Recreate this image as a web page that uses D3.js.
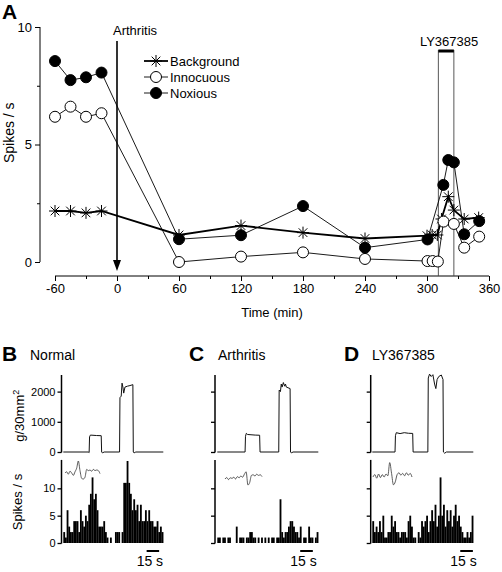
<!DOCTYPE html>
<html><head><meta charset="utf-8">
<script src="https://cdn.jsdelivr.net/npm/d3@7"></script>
<style>
body{margin:0;background:#fff;}
svg{font-family:Arial,"Liberation Sans",Helvetica,sans-serif;}
</style></head>
<body><svg id="c" width="502" height="572"></svg>
<script>
// ---------- Panel A data ----------
const timeTicks = [-60, 0, 60, 120, 180, 240, 300, 360];
const rateTicks = [0, 5, 10];
const timesBackground = [-60, -45, -30, -15, 60, 120, 180, 240, 300, 305, 310, 314, 320.6, 326, 336, 350];
const background      = [2.17, 2.17, 2.09, 2.17, 1.15, 1.55, 1.25, 1.0, 1.12, 1.15, 1.15, 1.83, 2.78, 2.21, 1.83, 1.89];
const timesInnocuous  = [-60, -45, -30, -15, 60, 120, 180, 240, 300.5, 305.5, 310.5, 316, 326, 336, 350.5];
const innocuous       = [6.18, 6.61, 6.18, 6.33, 0.0, 0.23, 0.41, 0.13, 0.04, 0.04, 0.02, 1.72, 1.62, 0.61, 1.08];
const timesNoxious    = [-60, -45, -30, -15, 60, 120, 180, 240, 300.5, 315.8, 320.6, 326, 336, 350.5];
const noxious         = [8.55, 7.74, 7.86, 8.06, 0.97, 1.14, 2.38, 0.61, 0.96, 3.28, 4.34, 4.24, 1.18, 1.74];
const arthritisTime = 0;
const drugStart = 311, drugEnd = 326;
const seriesNames = ["Background", "Innocuous", "Noxious"];

// ---------- Panels B-D data ----------
const panelNames = ["Normal", "Arthritis", "LY367385"];
const forceTicks = [0, 1000, 2000];
const histTicks = [0, 5, 10];
// force traces: [time s, g/30mm2]
const forceNormal = [[0,0],[30,0],[31,-20],[31.5,500],[32.5,560],[40,545],[45.5,540],[46,0],[47,-30],[49,0],[67.5,0],[68,1800],[69.5,1850],[70.5,2280],[71.5,2150],[72.5,1950],[74,2150],[77,2180],[80,2200],[83.5,2230],[84,0],[85,-30],[87,0],[120,0]];
const forceArthritis = [[0,0],[33,0],[33.5,520],[34.5,620],[36,580],[45,560],[50.3,555],[50.8,0],[73,0],[73.5,2050],[75,2000],[76,2250],[77,2150],[78.5,2300],[80,2180],[81,2250],[82,2150],[86.5,2100],[87,0],[88,-30],[90,0],[120,0]];
const forceLY = [[0,0],[27,0],[27.5,540],[28.5,640],[33,610],[38,640],[43,620],[48,615],[48.5,0],[66,0],[66.5,2450],[68,2580],[70,2500],[72,2560],[74,2250],[75.5,2100],[77,2400],[79,2500],[82,2550],[84,2400],[84.5,0],[86,-40],[88,0],[120,0]];
// histograms: spikes/s in 2-s bins
const histNormal = [2,1,6,3,2,2,4,4,4,2,6,4,3,5,4,7,9,12,8,9,6,3,3,3,4,2,1,0,1,0,0,2,2,2,0,2,11,11,15,11,9,6,8,6,7,4,7,4,4,6,4,6,4,4,3,3,4,2,3,2];
const histArthritis = [1,1,0,1,1,0,1,1,0,0,0,3,0,1,1,1,0,1,1,2,2,1,1,0,1,0,1,0,1,0,1,0,1,1,0,1,1,8,2,1,2,2,3,4,4,3,2,2,1,3,0,1,1,0,3,1,1,0,1,2];
const histLY = [4,2,3,2,4,2,5,1,1,2,2,5,3,4,2,2,1,2,2,2,1,4,5,3,1,1,0,2,1,4,3,4,5,2,4,6,4,7,3,5,12,5,7,3,6,4,6,3,5,7,4,5,3,2,1,1,2,1,2,5];
// spike waveform insets (relative units)
const waveNormal = [0,0.1,-0.1,0.15,0,-0.2,0.1,0.4,1.0,0.2,-0.45,-0.5,-0.35,0.3,0.2,0.25,0.15,0.3,0.2,0.25,0.2,-0.05];
const waveArthritis = [0,0.12,-0.05,0.1,0.05,0.15,0,0.2,0.1,0.25,0.15,0.4,0.6,-0.5,-0.3,0.3,0.35,0.25,0.4,0.3,0.35,0.2];
const waveLY = [0,0.2,-0.1,0.25,-0.05,0.2,0.0,0.25,0.1,1.2,0.3,-0.65,-0.4,0.2,0.35,0.15,0.3,0.1,0.35,0.15,0.3,0.0];
const scaleBarSeconds = 15;

const svg = d3.select("#c");
const fmt = d => String(d);

// ================= Panel A =================
const x = d3.scaleLinear().domain([-60, 360]).range([55, 489]);
const y = d3.scaleLinear().domain([0, 10]).range([262, 27]);
const gA = svg.append("g");

gA.append("text").attr("x", 2).attr("y", 19).attr("font-size", 21).attr("font-weight", "bold").text("A");

const yAx = gA.append("g").attr("transform", "translate(40,0)");
yAx.call(d3.axisLeft(y).tickValues(rateTicks).tickSize(5).tickPadding(3).tickFormat(fmt));
yAx.append("g").call(d3.axisLeft(y).tickValues([2.5, 7.5]).tickSize(3).tickFormat(""));
const xAx = gA.append("g").attr("transform", "translate(0,276)");
xAx.call(d3.axisBottom(x).tickValues(timeTicks).tickSize(5).tickPadding(3).tickFormat(fmt));
xAx.append("g").call(d3.axisBottom(x).tickValues(d3.range(-30, 360, 60)).tickSize(3).tickFormat(""));
[yAx, xAx].forEach(a => {
  a.selectAll(".domain").remove();
  a.selectAll("text").attr("font-size", 13).attr("fill", "#000").attr("font-family", "Arial, 'Liberation Sans', sans-serif");
});
gA.append("line").attr("x1", 40).attr("x2", 40).attr("y1", y(10)).attr("y2", y(0)).attr("stroke", "#000");
gA.append("line").attr("x1", x(-60)).attr("x2", x(360)).attr("y1", 276).attr("y2", 276).attr("stroke", "#000");

gA.append("text").attr("x", (x(-60) + x(360)) / 2).attr("y", 317).attr("text-anchor", "middle").attr("font-size", 13).text("Time (min)");
gA.append("text").attr("transform", `translate(14,${y(5.5)}) rotate(-90)`).attr("text-anchor", "middle").attr("font-size", 14).text("Spikes / s");

// drug application
gA.append("line").attr("x1", x(drugStart)).attr("x2", x(drugStart)).attr("y1", 50).attr("y2", 276).attr("stroke", "#444").attr("stroke-width", 0.9);
gA.append("line").attr("x1", x(drugEnd)).attr("x2", x(drugEnd)).attr("y1", 50).attr("y2", 276).attr("stroke", "#444").attr("stroke-width", 0.9);
gA.append("line").attr("x1", x(drugStart)).attr("x2", x(drugEnd)).attr("y1", 51).attr("y2", 51).attr("stroke", "#000").attr("stroke-width", 3);
gA.append("text").attr("x", (x(drugStart) + x(drugEnd)) / 2 + 3).attr("y", 46).attr("text-anchor", "middle").attr("font-size", 13).text("LY367385");

// arthritis arrow
gA.append("line").attr("x1", x(arthritisTime)).attr("x2", x(arthritisTime)).attr("y1", 41).attr("y2", 262).attr("stroke", "#000").attr("stroke-width", 1.6);
gA.append("path").attr("d", `M${x(0)-4},${260} L${x(0)+4},${260} L${x(0)},${271} Z`).attr("fill", "#000");
gA.append("text").attr("x", x(arthritisTime) - 4).attr("y", 35).attr("font-size", 13).text("Arthritis");

const asteriskPath = (r) => `M0,${-r}V${r}M${-r},0H${r}M${-r*0.72},${-r*0.72}L${r*0.72},${r*0.72}M${-r*0.72},${r*0.72}L${r*0.72},${-r*0.72}`;
const line = d3.line().x(d => x(d[0])).y(d => y(d[1]));

const bgData = timesBackground.map((t, i) => [t, background[i]]);
const inData = timesInnocuous.map((t, i) => [t, innocuous[i]]);
const noData = timesNoxious.map((t, i) => [t, noxious[i]]);

gA.append("path").datum(bgData).attr("d", line).attr("fill", "none").attr("stroke", "#000").attr("stroke-width", 1.8);
gA.append("path").datum(inData).attr("d", line).attr("fill", "none").attr("stroke", "#000").attr("stroke-width", 0.9);
gA.append("path").datum(noData).attr("d", line).attr("fill", "none").attr("stroke", "#000").attr("stroke-width", 0.9);

gA.selectAll(".bg").data(bgData).enter().append("path").attr("class", "bg")
  .attr("transform", d => `translate(${x(d[0])},${y(d[1])})`).attr("d", asteriskPath(6)).attr("stroke", "#000").attr("stroke-width", 1).attr("fill", "none");
gA.selectAll(".inn").data(inData).enter().append("circle").attr("class", "inn")
  .attr("cx", d => x(d[0])).attr("cy", d => y(d[1])).attr("r", 5.5).attr("fill", "#fff").attr("stroke", "#000").attr("stroke-width", 1);
gA.selectAll(".nox").data(noData).enter().append("circle").attr("class", "nox")
  .attr("cx", d => x(d[0])).attr("cy", d => y(d[1])).attr("r", 5.5).attr("fill", "#000").attr("stroke", "#000").attr("stroke-width", 1);

// legend
const leg = gA.append("g");
seriesNames.forEach((name, i) => {
  const ly = 61 + i * 16;
  leg.append("line").attr("x1", 144).attr("x2", 168).attr("y1", ly).attr("y2", ly).attr("stroke", "#000").attr("stroke-width", i === 0 ? 1.8 : 0.9);
  if (i === 0) leg.append("path").attr("transform", `translate(156,${ly})`).attr("d", asteriskPath(6)).attr("stroke", "#000").attr("fill", "none");
  else leg.append("circle").attr("cx", 156).attr("cy", ly).attr("r", 5.5).attr("fill", i === 1 ? "#fff" : "#000").attr("stroke", "#000");
  leg.append("text").attr("x", 170).attr("y", ly + 5).attr("font-size", 13).text(name);
});

// ================= Panels B-D =================
const panels = [
  {letter: "B", name: panelNames[0], letterX: 2, nameX: 30, axisX: 61.5, x0: 63.3, w: 100, force: forceNormal, hist: histNormal, wave: waveNormal, waveX: [65, 100], waveY: 473, labels: true, bar: [100, 115]},
  {letter: "C", name: panelNames[1], letterX: 189, nameX: 218, axisX: 215, x0: 217.3, w: 101, force: forceArthritis, hist: histArthritis, wave: waveArthritis, waveX: [225, 262], waveY: 479, labels: false, bar: [98.5, 113.5]},
  {letter: "D", name: panelNames[2], letterX: 344, nameX: 372, axisX: 370.7, x0: 372.3, w: 101, force: forceLY, hist: histLY, wave: waveLY, waveX: [373, 412], waveY: 477, labels: false, bar: [104.5, 119.5]}
];
const yF = d3.scaleLinear().domain([0, 2550]).range([452, 375]);
const yH = d3.scaleLinear().domain([0, 15]).range([543, 461]);

panels.forEach(p => {
  const g = svg.append("g");
  g.append("text").attr("x", p.letterX).attr("y", 361).attr("font-size", 21).attr("font-weight", "bold").text(p.letter);
  g.append("text").attr("x", p.nameX).attr("y", 360).attr("font-size", 14).text(p.name);
  const xt = d3.scaleLinear().domain([0, 120]).range([p.x0, p.x0 + p.w]);

  const fa = g.append("g").attr("transform", `translate(${p.axisX},0)`)
    .call(d3.axisLeft(yF).tickValues(forceTicks).tickSize(4).tickPadding(2).tickFormat(p.labels ? fmt : ""));
  fa.select(".domain").remove();
  fa.selectAll("line").attr("stroke-width", 1.3);
  fa.selectAll("text").attr("font-size", 11).attr("font-family", "Arial, 'Liberation Sans', sans-serif");
  g.append("line").attr("x1", p.axisX).attr("x2", p.axisX).attr("y1", yF(2550)).attr("y2", yF(0) + 0.5).attr("stroke", "#000").attr("stroke-width", 1.5);

  const ha = g.append("g").attr("transform", `translate(${p.axisX},0)`)
    .call(d3.axisLeft(yH).tickValues(histTicks).tickSize(4).tickPadding(2).tickFormat(p.labels ? fmt : ""));
  ha.select(".domain").remove();
  ha.selectAll("line").attr("stroke-width", 1.3);
  ha.selectAll("text").attr("font-size", 11).attr("font-family", "Arial, 'Liberation Sans', sans-serif");
  g.append("line").attr("x1", p.axisX).attr("x2", p.axisX).attr("y1", yH(15.2)).attr("y2", yH(0) + 0.5).attr("stroke", "#000").attr("stroke-width", 1.5);

  const fl = d3.line().x(d => xt(d[0])).y(d => yF(d[1]));
  g.append("path").datum(p.force).attr("d", fl).attr("fill", "none").attr("stroke", "#111").attr("stroke-width", 1);

  const bw = 120 / p.hist.length;
  g.selectAll(".bar").data(p.hist).enter().append("rect")
    .attr("x", (d, i) => xt(i * bw)).attr("width", xt(bw) - xt(0) + 0.15)
    .attr("y", d => yH(d)).attr("height", d => yH(0) - yH(d)).attr("fill", "#000");

  const wx = d3.scaleLinear().domain([0, p.wave.length - 1]).range(p.waveX);
  const wy = d3.scaleLinear().domain([-1, 1]).range([p.waveY + 12, p.waveY - 12]);
  g.append("path").datum(p.wave).attr("d", d3.line().x((d, i) => wx(i)).y(d => wy(d)).curve(d3.curveMonotoneX))
    .attr("fill", "none").attr("stroke", "#333").attr("stroke-width", 0.8);

  g.append("line").attr("x1", xt(p.bar[0])).attr("x2", xt(p.bar[1])).attr("y1", 551).attr("y2", 551).attr("stroke", "#000").attr("stroke-width", 2);
  g.append("text").attr("x", (xt(p.bar[0]) + xt(p.bar[1])) / 2 - 3).attr("y", 566).attr("text-anchor", "middle").attr("font-size", 14).text(scaleBarSeconds + " s");
});

svg.append("text").attr("transform", `translate(24,${yF(1200)}) rotate(-90)`).attr("text-anchor", "middle").attr("font-size", 13)
  .html('g/30mm<tspan dy="-5" font-size="9">2</tspan>');
svg.append("text").attr("transform", `translate(22,${yH(7.5)}) rotate(-90)`).attr("text-anchor", "middle").attr("font-size", 13).text("Spikes / s");
</script></body></html>
